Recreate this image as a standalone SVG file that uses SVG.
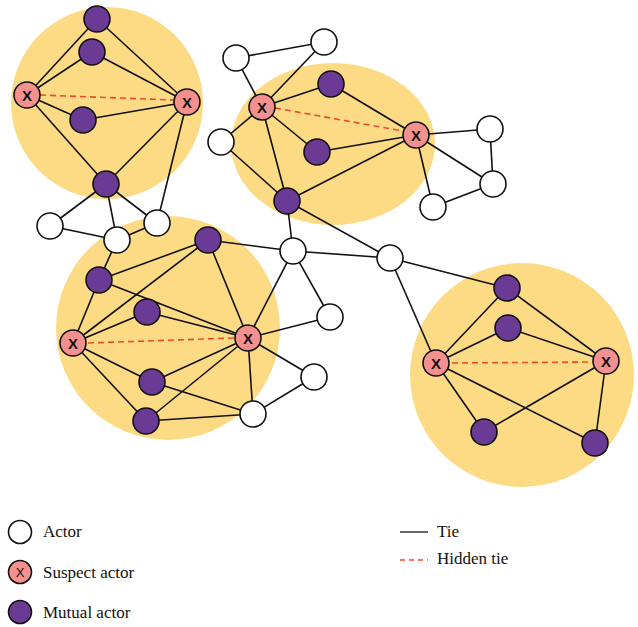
<svg xmlns="http://www.w3.org/2000/svg" width="638" height="627" viewBox="0 0 638 627">
  <style>
    .zone { fill: #fddb85; }
    .tie { stroke: #111; stroke-width: 1.6; fill: none; }
    .hidden { stroke: #ee4a2e; stroke-width: 1.6; stroke-dasharray: 6 4; fill: none; }
    .actor { fill: #fff; stroke: #111; stroke-width: 1.6; }
    .suspect { fill: #f4918f; stroke: #111; stroke-width: 1.6; }
    .mutual { fill: #6a3a94; stroke: #111; stroke-width: 1.6; }
    .mark { font-family: "Liberation Sans", Arial, sans-serif; font-size: 15px; font-weight: bold; fill: #111; text-anchor: middle; }
    .legend { font-family: "Liberation Serif", "Times New Roman", serif; font-size: 17px; fill: #111; }
  </style>

  <!-- group zones -->
  <g id="zones">
    <circle class="zone" cx="107" cy="103" r="96"/>
    <ellipse class="zone" cx="333" cy="144" rx="102" ry="81"/>
    <circle class="zone" cx="168" cy="328" r="112"/>
    <circle class="zone" cx="522" cy="375" r="112"/>
  </g>

  <!-- ties -->
  <g id="connectors">
    <!-- top-left group -->
    <line class="tie" x1="27" y1="95" x2="97" y2="19"/>
    <line class="tie" x1="27" y1="95" x2="92" y2="52"/>
    <line class="tie" x1="27" y1="95" x2="83" y2="120"/>
    <line class="tie" x1="27" y1="95" x2="106" y2="184"/>
    <line class="tie" x1="97" y1="19" x2="187" y2="102"/>
    <line class="tie" x1="92" y1="52" x2="187" y2="102"/>
    <line class="tie" x1="83" y1="120" x2="187" y2="102"/>
    <line class="tie" x1="106" y1="184" x2="187" y2="102"/>
    <line class="tie" x1="187" y1="102" x2="157" y2="223"/>
    <line class="tie" x1="106" y1="184" x2="50" y2="226"/>
    <line class="tie" x1="106" y1="184" x2="117" y2="240"/>
    <line class="tie" x1="106" y1="184" x2="157" y2="223"/>
    <line class="tie" x1="50" y1="226" x2="117" y2="240"/>
    <line class="tie" x1="117" y1="240" x2="157" y2="223"/>
    <line class="tie" x1="117" y1="240" x2="99" y2="280"/>

    <!-- top-middle group -->
    <line class="tie" x1="236" y1="58" x2="324" y2="42"/>
    <line class="tie" x1="236" y1="58" x2="262" y2="107"/>
    <line class="tie" x1="324" y1="42" x2="262" y2="107"/>
    <line class="tie" x1="262" y1="107" x2="331" y2="84"/>
    <line class="tie" x1="262" y1="107" x2="317" y2="152"/>
    <line class="tie" x1="262" y1="107" x2="287" y2="201"/>
    <line class="tie" x1="262" y1="107" x2="221" y2="142"/>
    <line class="tie" x1="331" y1="84" x2="416" y2="135"/>
    <line class="tie" x1="317" y1="152" x2="416" y2="135"/>
    <line class="tie" x1="287" y1="201" x2="416" y2="135"/>
    <line class="tie" x1="221" y1="142" x2="287" y2="201"/>
    <line class="tie" x1="416" y1="135" x2="490" y2="129"/>
    <line class="tie" x1="416" y1="135" x2="493" y2="184"/>
    <line class="tie" x1="416" y1="135" x2="433" y2="207"/>
    <line class="tie" x1="490" y1="129" x2="493" y2="184"/>
    <line class="tie" x1="493" y1="184" x2="433" y2="207"/>
    <line class="tie" x1="287" y1="201" x2="293" y2="251"/>
    <line class="tie" x1="287" y1="201" x2="390" y2="258"/>

    <!-- lower-left group -->
    <line class="tie" x1="208" y1="240" x2="99" y2="280"/>
    <line class="tie" x1="208" y1="240" x2="73" y2="343"/>
    <line class="tie" x1="208" y1="240" x2="248" y2="338"/>
    <line class="tie" x1="208" y1="240" x2="293" y2="251"/>
    <line class="tie" x1="99" y1="280" x2="73" y2="343"/>
    <line class="tie" x1="99" y1="280" x2="248" y2="338"/>
    <line class="tie" x1="147" y1="312" x2="73" y2="343"/>
    <line class="tie" x1="147" y1="312" x2="248" y2="338"/>
    <line class="tie" x1="73" y1="343" x2="152" y2="382"/>
    <line class="tie" x1="73" y1="343" x2="146" y2="421"/>
    <line class="tie" x1="152" y1="382" x2="248" y2="338"/>
    <line class="tie" x1="152" y1="382" x2="253" y2="414"/>
    <line class="tie" x1="146" y1="421" x2="248" y2="338"/>
    <line class="tie" x1="146" y1="421" x2="253" y2="414"/>
    <line class="tie" x1="248" y1="338" x2="253" y2="414"/>
    <line class="tie" x1="248" y1="338" x2="293" y2="251"/>
    <line class="tie" x1="248" y1="338" x2="314" y2="377"/>
    <line class="tie" x1="248" y1="338" x2="330" y2="317"/>
    <line class="tie" x1="253" y1="414" x2="314" y2="377"/>
    <line class="tie" x1="293" y1="251" x2="330" y2="317"/>
    <line class="tie" x1="293" y1="251" x2="390" y2="258"/>

    <!-- right group -->
    <line class="tie" x1="390" y1="258" x2="507" y2="288"/>
    <line class="tie" x1="390" y1="258" x2="436" y2="363"/>
    <line class="tie" x1="436" y1="363" x2="507" y2="288"/>
    <line class="tie" x1="436" y1="363" x2="508" y2="328"/>
    <line class="tie" x1="436" y1="363" x2="484" y2="432"/>
    <line class="tie" x1="436" y1="363" x2="595" y2="443"/>
    <line class="tie" x1="507" y1="288" x2="606" y2="361"/>
    <line class="tie" x1="508" y1="328" x2="606" y2="361"/>
    <line class="tie" x1="484" y1="432" x2="606" y2="361"/>
    <line class="tie" x1="606" y1="361" x2="595" y2="443"/>

    <!-- hidden ties between suspects -->
    <line class="hidden" x1="40" y1="95" x2="174" y2="100"/>
    <line class="hidden" x1="275" y1="108" x2="403" y2="131"/>
    <line class="hidden" x1="88" y1="343" x2="234" y2="338"/>
    <line class="hidden" x1="452" y1="363" x2="591" y2="362"/>
  </g>

  <!-- actors -->
  <g id="actors">
    <circle id="a1" class="actor" cx="50" cy="226" r="13"/>
    <circle id="a2" class="actor" cx="117" cy="240" r="13"/>
    <circle id="a3" class="actor" cx="157" cy="223" r="13"/>
    <circle id="a4" class="actor" cx="236" cy="58" r="13"/>
    <circle id="a5" class="actor" cx="324" cy="42" r="13"/>
    <circle id="a6" class="actor" cx="221" cy="142" r="13"/>
    <circle id="a7" class="actor" cx="490" cy="129" r="13"/>
    <circle id="a8" class="actor" cx="493" cy="184" r="13"/>
    <circle id="a9" class="actor" cx="433" cy="207" r="13"/>
    <circle id="a10" class="actor" cx="293" cy="251" r="13"/>
    <circle id="a11" class="actor" cx="390" cy="258" r="13"/>
    <circle id="a12" class="actor" cx="330" cy="317" r="13"/>
    <circle id="a13" class="actor" cx="314" cy="377" r="13"/>
    <circle id="a14" class="actor" cx="253" cy="414" r="13"/>
  </g>

  <!-- mutual actors -->
  <g id="mutuals">
    <circle id="m1" class="mutual" cx="97" cy="19" r="13"/>
    <circle id="m2" class="mutual" cx="92" cy="52" r="13"/>
    <circle id="m3" class="mutual" cx="83" cy="120" r="13"/>
    <circle id="m4" class="mutual" cx="106" cy="184" r="13"/>
    <circle id="m5" class="mutual" cx="331" cy="84" r="13"/>
    <circle id="m6" class="mutual" cx="317" cy="152" r="13"/>
    <circle id="m7" class="mutual" cx="287" cy="201" r="13"/>
    <circle id="m8" class="mutual" cx="208" cy="240" r="13"/>
    <circle id="m9" class="mutual" cx="99" cy="280" r="13"/>
    <circle id="m10" class="mutual" cx="147" cy="312" r="13"/>
    <circle id="m11" class="mutual" cx="152" cy="382" r="13"/>
    <circle id="m12" class="mutual" cx="146" cy="421" r="13"/>
    <circle id="m13" class="mutual" cx="507" cy="288" r="13"/>
    <circle id="m14" class="mutual" cx="508" cy="328" r="13"/>
    <circle id="m15" class="mutual" cx="484" cy="432" r="13"/>
    <circle id="m16" class="mutual" cx="595" cy="443" r="13"/>
  </g>

  <!-- suspect actors -->
  <g id="s1"><circle class="suspect" cx="27" cy="95" r="13"/><text class="mark" x="27" y="100.5">X</text></g>
  <g id="s2"><circle class="suspect" cx="187" cy="102" r="13"/><text class="mark" x="187" y="107.5">X</text></g>
  <g id="s3"><circle class="suspect" cx="262" cy="107" r="13"/><text class="mark" x="262" y="112.5">X</text></g>
  <g id="s4"><circle class="suspect" cx="416" cy="135" r="13"/><text class="mark" x="416" y="140.5">X</text></g>
  <g id="s5"><circle class="suspect" cx="73" cy="343" r="13"/><text class="mark" x="73" y="348.5">X</text></g>
  <g id="s6"><circle class="suspect" cx="248" cy="338" r="13"/><text class="mark" x="248" y="343.5">X</text></g>
  <g id="s7"><circle class="suspect" cx="436" cy="363" r="13"/><text class="mark" x="436" y="368.5">X</text></g>
  <g id="s8"><circle class="suspect" cx="606" cy="361" r="13"/><text class="mark" x="606" y="366.5">X</text></g>

  <!-- legend -->
  <g id="legend">
    <circle class="actor" cx="20" cy="532" r="11.5"/>
    <text class="legend" x="43" y="537">Actor</text>
    <circle class="suspect" cx="20" cy="572" r="11.5"/>
    <text x="20" y="577" style="font-family:'Liberation Sans',Arial,sans-serif;font-size:13px;fill:#111;text-anchor:middle">X</text>
    <text class="legend" x="43" y="578">Suspect actor</text>
    <circle class="mutual" cx="20" cy="612" r="11.5"/>
    <text class="legend" x="43" y="618">Mutual actor</text>
    <line class="tie" x1="400" y1="532" x2="428" y2="532" style="stroke-width:1.3"/>
    <text class="legend" x="437" y="537">Tie</text>
    <line class="hidden" x1="400" y1="560" x2="428" y2="560" style="stroke-width:1.3;stroke-dasharray:5 4"/>
    <text class="legend" x="437" y="564">Hidden tie</text>
  </g>
</svg>
